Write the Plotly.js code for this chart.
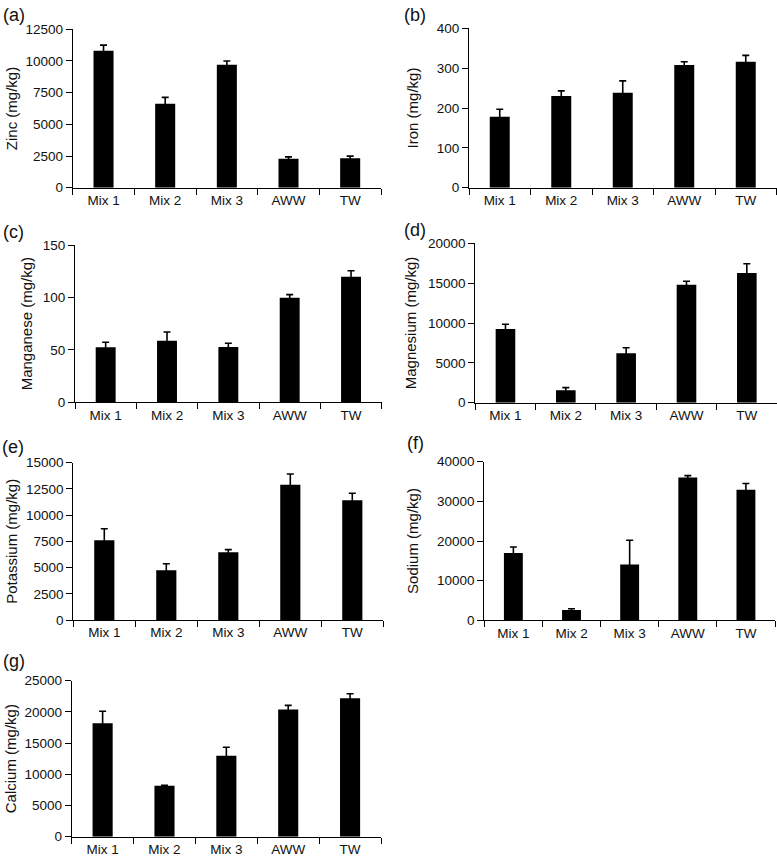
<!DOCTYPE html>
<html><head><meta charset="utf-8">
<script src="https://cdn.plot.ly/plotly-3.0.1.min.js"></script>
<style>html,body{margin:0;padding:0;background:#fff}</style>
</head><body><div id="chart" style="width:777px;height:864px"></div>
<script>
const categories = ['Mix 1', 'Mix 2', 'Mix 3', 'AWW', 'TW'];

const zincValues = [10800, 6630, 9700, 2280, 2330];
const zincErrors = [450, 500, 300, 150, 160];
const ironValues = [178, 230, 238, 308, 316];
const ironErrors = [19, 13, 30, 8, 16];
const manganeseValues = [52.4, 58.7, 52.7, 99.7, 119.8];
const manganeseErrors = [4.8, 8.3, 3.6, 3.0, 5.7];
const magnesiumValues = [9250, 1560, 6200, 14800, 16270];
const magnesiumErrors = [590, 330, 700, 430, 1170];
const potassiumValues = [7600, 4740, 6460, 12900, 11410];
const potassiumErrors = [1100, 630, 250, 1020, 670];
const sodiumValues = [17000, 2600, 14100, 36000, 32900];
const sodiumErrors = [1500, 330, 6100, 500, 1600];
const calciumValues = [18200, 8170, 12980, 20400, 22180];
const calciumErrors = [1900, 80, 1350, 640, 740];

const panelLabels = ['(a)', '(b)', '(c)', '(d)', '(e)', '(f)', '(g)'];
const yTitles = ['Zinc (mg/kg)', 'Iron (mg/kg)', 'Manganese (mg/kg)', 'Magnesium (mg/kg)',
                 'Potassium (mg/kg)', 'Sodium (mg/kg)', 'Calcium (mg/kg)'];
const yMax = [12500, 400, 150, 20000, 15000, 40000, 25000];
const yStep = [2500, 100, 50, 5000, 2500, 10000, 5000];
const seriesValues = [zincValues, ironValues, manganeseValues, magnesiumValues,
                      potassiumValues, sodiumValues, calciumValues];
const seriesErrors = [zincErrors, ironErrors, manganeseErrors, magnesiumErrors,
                      potassiumErrors, sodiumErrors, calciumErrors];

// layout geometry in pixels (left, right, top, bottom) of each plot area
const W = 777, H = 864;
const boxes = [
  [72.7, 381, 29.3, 187.7],
  [469, 776.5, 28.3, 187.7],
  [75, 381.7, 245, 402.3],
  [475.3, 777, 243.3, 402.7],
  [73.3, 383.3, 462.7, 620],
  [484.3, 775, 461.7, 620.3],
  [71.7, 381, 680.7, 836.7]
];
const labelPos = [[14, 15], [415, 15], [13, 232], [415, 230], [13, 447], [415, 443], [14, 661]];
const standoffs = [4, 14, 6, 7, 4, 14, 4];

const FONT = 'Liberation Sans, Arial, Helvetica, sans-serif';
const data = [];
const layout = {
  width: W, height: H,
  margin: {l: 0, r: 0, t: 0, b: 0},
  paper_bgcolor: '#fff', plot_bgcolor: 'rgba(0,0,0,0)',
  showlegend: false,
  bargap: 0.675,
  font: {family: FONT, size: 13.5, color: '#111'},
  annotations: []
};

for (let i = 0; i < 7; i++) {
  const s = i === 0 ? '' : String(i + 1);
  data.push({
    type: 'bar',
    x: categories,
    y: seriesValues[i],
    xaxis: 'x' + s, yaxis: 'y' + s,
    marker: {color: '#000', line: {width: 0}},
    error_y: {type: 'data', array: seriesErrors[i], symmetric: true,
              color: '#000', thickness: 1.6, width: 3.5},
    hoverinfo: 'x+y'
  });
  const b = boxes[i];
  layout['xaxis' + s] = {
    domain: [b[0] / W, b[1] / W],
    anchor: 'y' + s,
    type: 'category',
    range: [-0.5, 4.5],
    tickson: 'boundaries',
    ticks: 'outside', ticklen: 6, tickwidth: 1, tickcolor: '#000',
    showline: true, linecolor: '#000', linewidth: 1,
    showgrid: false, zeroline: false,
    tickfont: {family: FONT, size: 13.5, color: '#111'},
    fixedrange: true
  };
  layout['yaxis' + s] = {
    domain: [1 - b[3] / H, 1 - b[2] / H],
    anchor: 'x' + s,
    range: [0, yMax[i]],
    tick0: 0, dtick: yStep[i],
    tickformat: 'd',
    ticks: 'outside', ticklen: 6, tickwidth: 1, tickcolor: '#000',
    showline: true, linecolor: '#000', linewidth: 1,
    showgrid: false, zeroline: false,
    tickfont: {family: FONT, size: 13.5, color: '#111'},
    title: {text: yTitles[i], font: {family: FONT, size: 15, color: '#111'}, standoff: standoffs[i]},
    fixedrange: true
  };
  layout.annotations.push({
    text: panelLabels[i], xref: 'paper', yref: 'paper',
    x: labelPos[i][0] / W, y: 1 - labelPos[i][1] / H,
    xanchor: 'center', yanchor: 'middle', showarrow: false,
    font: {family: FONT, size: 18, color: '#111'}
  });
}

Plotly.newPlot('chart', data, layout, {displayModeBar: false, staticPlot: true});
</script>
</body></html>
